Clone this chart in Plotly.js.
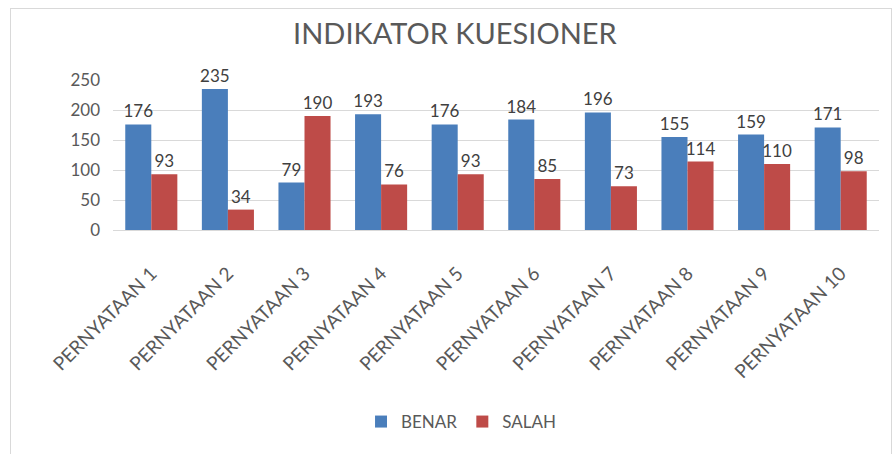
<!DOCTYPE html>
<html>
<head>
<meta charset="utf-8">
<script src="https://cdn.plot.ly/plotly-3.0.1.min.js"></script>
<style>
html,body{margin:0;padding:0;background:#fff;}
#wrap{position:relative;width:892px;height:454px;}
#chart{position:absolute;left:0;top:0;width:892px;height:454px;}
#frame{position:absolute;left:10px;top:8px;width:880px;height:460px;border:1px solid #d9d9d9;pointer-events:none;}
</style>
</head>
<body>
<div id="wrap"><div id="chart"></div><div id="frame"></div></div>
<script>
const categories = ["PERNYATAAN 1","PERNYATAAN 2","PERNYATAAN 3","PERNYATAAN 4","PERNYATAAN 5","PERNYATAAN 6","PERNYATAAN 7","PERNYATAAN 8","PERNYATAAN 9","PERNYATAAN 10"];
const benar = [176,235,79,193,176,184,196,155,159,171];
const salah = [93,34,190,76,93,85,73,114,110,98];
const yTicks = [0,50,100,150,200,250];

const font = "Lato, 'Open Sans', sans-serif";
const traces = [
  {type:"bar", name:"BENAR", x:categories, y:benar, marker:{color:"#4a7ebb"},
   text:benar.map(String), textposition:"outside", cliponaxis:false, constraintext:"none",
   textfont:{family:font,size:17,color:"#404040"}},
  {type:"bar", name:"SALAH", x:categories, y:salah, marker:{color:"#be4b48"},
   text:salah.map(String), textposition:"outside", cliponaxis:false, constraintext:"none",
   textfont:{family:font,size:17,color:"#404040"}}
];
const layout = {
  width:892, height:454,
  margin:{l:113, r:13, t:80, b:224},
  paper_bgcolor:"#fff", plot_bgcolor:"#fff",
  font:{family:font, color:"#595959"},
  title:{text:"INDIKATOR KUESIONER", x:0.51, xanchor:"center", y:0.925, yanchor:"middle",
         font:{family:font, size:29, color:"#595959"}},
  barmode:"group", bargap:0.32, bargroupgap:0,
  xaxis:{tickangle:-45, tickfont:{family:font,size:19,color:"#595959"}, showline:true,
         linecolor:"#d9d9d9", ticks:"", automargin:false, ticklabelstandoff:24},
  yaxis:{range:[0,250], tickvals:yTicks, ticktext:yTicks.map(String), showgrid:true, gridcolor:"#d9d9d9",
         zeroline:false, showline:false, ticks:"", ticklabelstandoff:12,
         tickfont:{family:font,size:17,color:"#595959"}, automargin:false},
  showlegend:true,
  legend:{orientation:"h", x:0.455, xanchor:"center", y:-1.28, yanchor:"middle",
          font:{family:font,size:17,color:"#595959"}, itemwidth:30},
  uniformtext:{mode:false}
};
Plotly.newPlot("chart", traces, layout, {displayModeBar:false, staticPlot:true});
</script>
</body>
</html>
